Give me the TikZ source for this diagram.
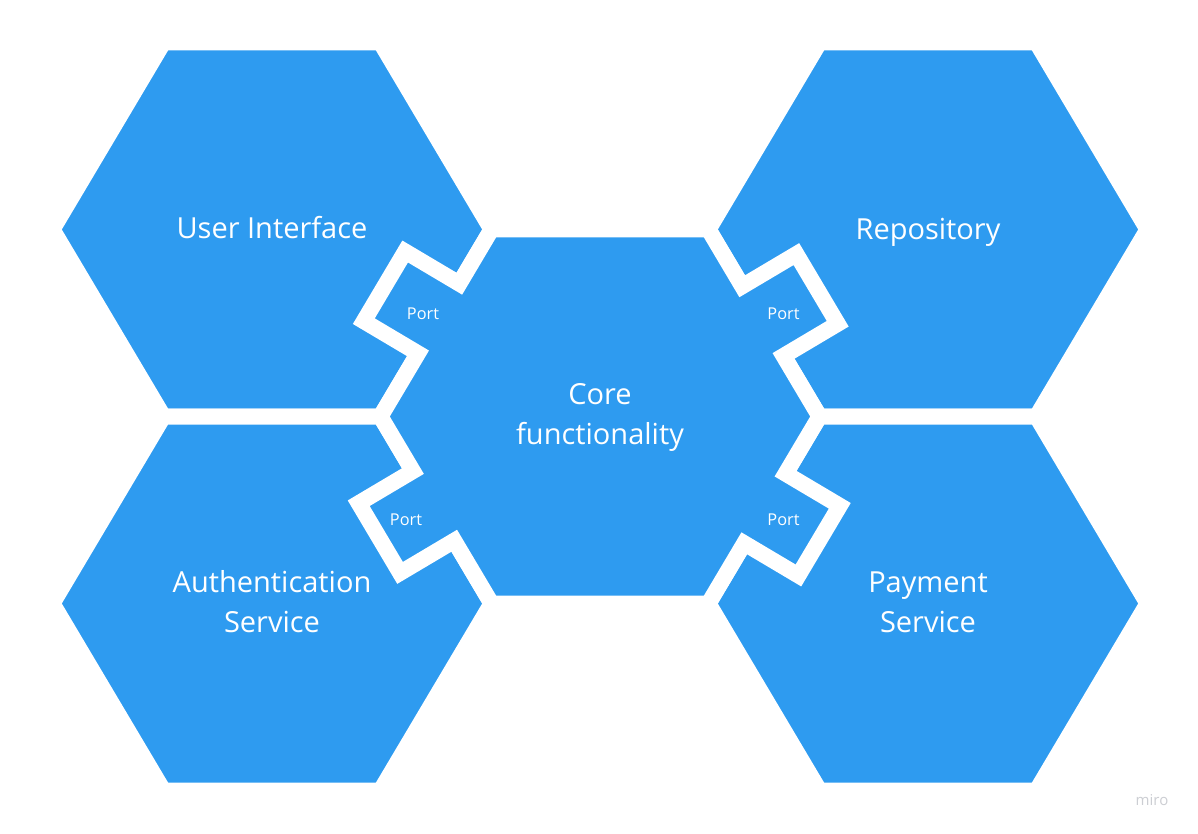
\documentclass[tikz,border=0pt]{standalone}
\usepackage{fontspec}
\setmainfont{Open Sans}
\definecolor{hexblue}{RGB}{46,155,240}
\definecolor{logogray}{RGB}{204,206,211}
\begin{document}
\begin{tikzpicture}[x=1pt,y=-1pt,
  hex/.style={fill=hexblue, draw=white, line width=16pt, line join=miter},
  big/.style={text=white, font=\fontsize{29}{40}\selectfont, align=center, inner sep=0pt},
  port/.style={text=white, font=\fontsize{16.3}{18}\selectfont, inner sep=0pt}]
\useasboundingbox (0,0) rectangle (1198,834);
\fill[white] (0,0) rectangle (1198,834);
% outer hexagons (gap centre lines)
\draw[hex] (163.5,42.5) -- (380.5,42.5) -- (491.5,229.5) -- (380.5,416.5) -- (163.5,416.5) -- (52.5,229.5) -- cycle;
\draw[hex] (163.5,416.5) -- (380.5,416.5) -- (491.5,603.5) -- (380.5,790.5) -- (163.5,790.5) -- (52.5,603.5) -- cycle;
\draw[hex] (819.5,42.5) -- (1036.5,42.5) -- (1147.5,229.5) -- (1036.5,416.5) -- (819.5,416.5) -- (708.5,229.5) -- cycle;
\draw[hex] (819.5,416.5) -- (1036.5,416.5) -- (1147.5,603.5) -- (1036.5,790.5) -- (819.5,790.5) -- (708.5,603.5) -- cycle;
% core hexagon with its four port tabs
\draw[hex] (491.5,229.5) -- (708.5,229.5)
  -- (742.19,286.26) -- (796.37,254.10) -- (837.71,323.75) -- (783.53,355.91)
  -- (819.5,416.5)
  -- (785.58,473.65) -- (839.76,505.81) -- (798.41,575.46) -- (744.23,543.30)
  -- (708.5,603.5) -- (491.5,603.5)
  -- (454.24,540.73) -- (400.06,572.89) -- (358.71,503.23) -- (412.89,471.07)
  -- (380.5,416.5)
  -- (418.00,353.33) -- (363.82,321.17) -- (405.16,251.52) -- (459.34,283.68)
  -- cycle;
% labels
\node[big] (ui) at (272,228) {User Interface};
\node[big] (repo) at (928,232) {Repository};
\node[big] (core) at (600,417) {Core\\functionality};
\node[big] (auth) at (272,602) {Authentication\\Service};
\node[big] (pay) at (928,602) {Payment\\Service};
\node[port] (p1) at (423,314) {Port};
\node[port] (p2) at (406,520) {Port};
\node[port] (p3) at (783.5,314) {Port};
\node[port] (p4) at (783.5,520) {Port};
\node[text=logogray, font=\fontsize{15}{18}\selectfont, inner sep=0pt] (logo) at (1152,800) {miro};
\end{tikzpicture}
\end{document}
